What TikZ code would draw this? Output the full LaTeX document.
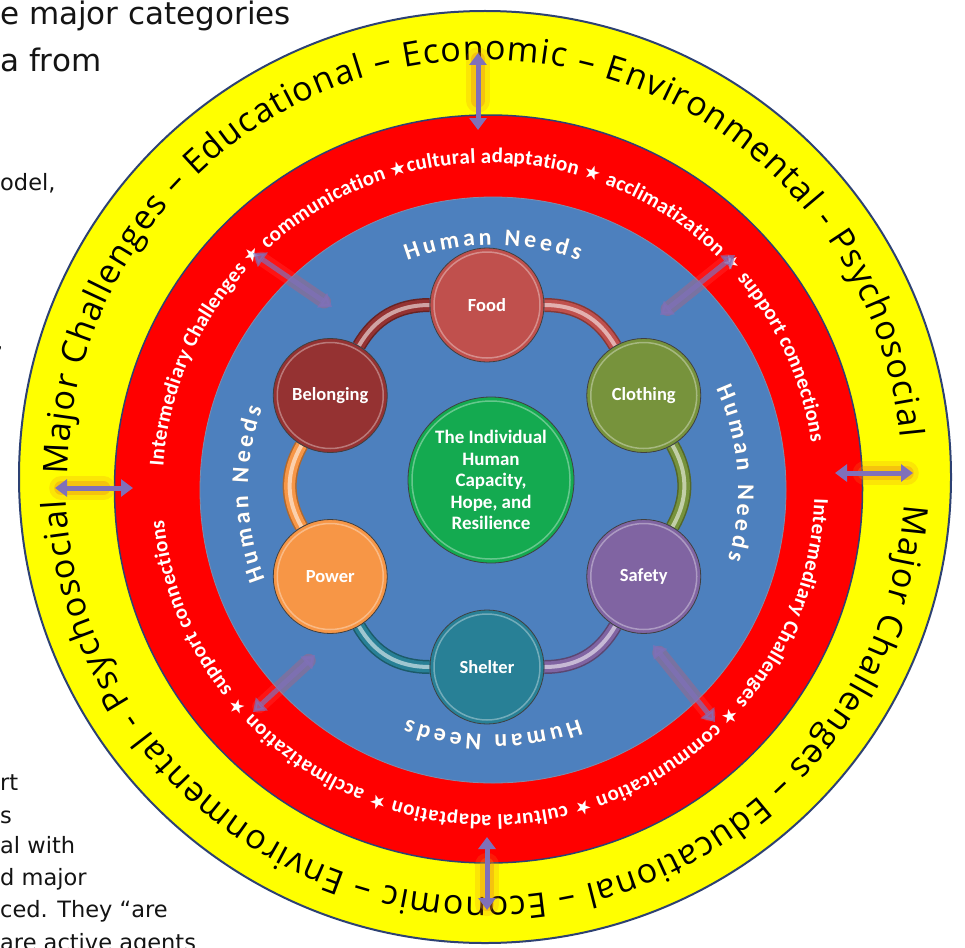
\documentclass[tikz,border=0pt]{standalone}
\usepackage{fontspec}
\setmainfont{Carlito}
\newfontfamily\yelfont{Open Sans}
\newfontfamily\calfont{Carlito}
\newfontfamily\symfont{DejaVu Sans}
\newfontfamily\slidefont{DejaVu Sans}
\usetikzlibrary{decorations.text,arrows.meta,calc}

\definecolor{ringyellow}{RGB}{255,255,0}
\definecolor{ringred}{RGB}{255,0,0}
\definecolor{ringblue}{RGB}{77,128,190}
\definecolor{rimline}{RGB}{45,65,115}
\definecolor{cfood}{RGB}{192,80,77}
\definecolor{ccloth}{RGB}{119,147,60}
\definecolor{csafe}{RGB}{128,100,162}
\definecolor{cshelter}{RGB}{40,128,150}
\definecolor{cpower}{RGB}{247,150,70}
\definecolor{cbelong}{RGB}{149,50,50}
\definecolor{ccenter}{RGB}{20,170,80}
\definecolor{arrowpurple}{RGB}{128,112,185}
\definecolor{glow}{RGB}{235,130,30}
\definecolor{slidetext}{RGB}{20,20,20}

\newcommand\ytxt{\yelfont\fontsize{34}{34}\selectfont\color{black}}
\newcommand\rtxt{\calfont\bfseries\fontsize{21}{21}\selectfont\color{white}}
\newcommand\rstar{\symfont\fontsize{19}{19}\selectfont\color{white}}
\newcommand\htxt{\calfont\bfseries\fontsize{24}{24}\selectfont\color{white}}
\newcommand\hshadow{\calfont\bfseries\fontsize{24}{24}\selectfont\color{black!60}}

\pgfdeclarelayer{back}
\pgfdeclarelayer{bands}
\pgfsetlayers{back,bands,main}

\tikzset{
  need/.style={circle, minimum size=114pt, inner sep=0pt, fill=#1, draw=black!75,
    line width=0.8pt, text=white, font=\calfont\bfseries\fontsize{18.5}{18.5}\selectfont},
  hub/.style={circle, minimum size=166pt, inner sep=0pt, fill=ccenter, draw=black!75,
    line width=0.8pt, text=white, align=center,
    font=\calfont\bfseries\fontsize{19}{21.5}\selectfont},
  bandout/.style={line width=14pt, draw=#1!70!black, bend left=30},
  bandmid/.style={line width=11pt, draw=#1, bend left=30},
  bandhi/.style={line width=4pt, draw=#1!45!white, bend left=30},
  dbl/.style={draw=arrowpurple, line width=5pt,
    {Triangle[width=17pt,length=12pt]}-{Triangle[width=17pt,length=12pt]}},
  glowwide/.style={draw=glow, line width=24pt, opacity=0.2, line cap=round},
  glownarrow/.style={draw=glow, line width=14pt, opacity=0.35, line cap=round},
  pinkglow/.style={draw=red!70!white, line width=14pt, opacity=0.25, line cap=round},
  fadedarrow/.style={dbl, opacity=0.7},
  slide/.style={anchor=base west, inner sep=0pt, text=slidetext},
  ringtext/.style={decorate, decoration={text along path, text align={fit to path}, text={#1}}},
}

\begin{document}
\begin{tikzpicture}[x=1pt,y=1pt]
\useasboundingbox (0,0) rectangle (965,-947);

\coordinate (Y) at (485,-477);
\coordinate (R) at (488.5,-489);
\coordinate (B) at (493,-490);
\coordinate (H) at (487,-486);

\begin{pgfonlayer}{back}
\fill[white] (0,0) rectangle (965,-947);
\fill[ringyellow] (Y) circle[radius=466];
\draw[rimline, line width=2pt] (Y) circle[radius=466];
\fill[ringred] (R) circle[radius=374];
\draw[rimline, line width=1.5pt] (R) circle[radius=374];
\fill[ringblue] (B) circle[radius=293];
\draw[rimline!60, line width=0.8pt] (B) circle[radius=293];

% yellow ring text
\path[ringtext={|\ytxt|Major Challenges – Educational – Economic – Environmental - Psychosocial}]
  ([shift={(179.6:417)}]Y) arc[start angle=179.6, end angle=5.4, radius=417];
\path[ringtext={|\ytxt|Major Challenges – Educational – Economic – Environmental - Psychosocial}]
  ([shift={(-3.8:420)}]Y) arc[start angle=-3.8, end angle=-176.8, radius=420];

% red ring text
\path[ringtext={|\rtxt|Intermediary Challenges |\rstar|★ |\rtxt|communication |\rstar|★|\rtxt|cultural adaptation |\rstar|★ |\rtxt|acclimatization |\rstar|★ |\rtxt|support connections}]
  ([shift={(176:326)}]R) arc[start angle=176, end angle=8.3, radius=326];
\path[ringtext={|\rtxt|Intermediary Challenges |\rstar|★ |\rtxt|communication |\rstar|★ |\rtxt|cultural adaptation |\rstar|★ |\rtxt|acclimatization |\rstar|★ |\rtxt|support connections}]
  ([shift={(-1.6:326)}]R) arc[start angle=-1.6, end angle=-174.5, radius=326];

% Human Needs
\foreach \a in {90,4,-90,181} {
  \path[shift={(1.2,-1.2)}, ringtext={|\hshadow|Human Needs}]
    ([shift={({\a+20.5}:245)}]B) arc[start angle={\a+20.5}, end angle={\a-20.5}, radius=245];
  \path[ringtext={|\htxt|Human Needs}]
    ([shift={({\a+20.5}:245)}]B) arc[start angle={\a+20.5}, end angle={\a-20.5}, radius=245];
}
\end{pgfonlayer}

% need circles
\node[need=cfood]    (food)    at ([shift={(90:181)}]H)   {Food};
\node[need=ccloth]   (cloth)   at ([shift={(30:181)}]H)   {Clothing};
\node[need=csafe]    (safety)  at ([shift={(-30:181)}]H)  {Safety};
\node[need=cshelter] (shelter) at ([shift={(-90:181)}]H)  {Shelter};
\node[need=cpower]   (power)   at ([shift={(-150:181)}]H) {Power};
\node[need=cbelong]  (belong)  at ([shift={(150:181)}]H)  {Belonging};
\node[hub] (center) at (491,-480) {The Individual\\Human\\Capacity,\\Hope, and\\Resilience};

\foreach \n in {food,cloth,safety,shelter,power,belong}
  \draw[white, opacity=0.35, line width=1.5pt] (\n.center) circle[radius=53];
\draw[white, opacity=0.35, line width=1.5pt] (center.center) circle[radius=79];

\begin{pgfonlayer}{bands}
\foreach \s/\t/\c in {food/cloth/cfood, cloth/safety/ccloth, safety/shelter/csafe,
    shelter/power/cshelter, power/belong/cpower, belong/food/cbelong} {
  \draw[bandout=\c] (\s) to (\t);
  \draw[bandmid=\c] (\s) to (\t);
  \draw[bandhi=\c] (\s) to (\t);
}
\end{pgfonlayer}

% arrows between the outer rings
\coordinate (ta) at (478,-53);   \coordinate (tb) at (478,-130);
\coordinate (ba) at (487,-837);  \coordinate (bb) at (487,-910);
\coordinate (la) at (55,-488);   \coordinate (lb) at (133,-488);
\coordinate (ra) at (835,-473);  \coordinate (rb) at (913,-473);
\foreach \p/\q in {ta/tb, bb/ba, la/lb, rb/ra} {
  \draw[glowwide] ($(\p)!0.08!(\q)$) -- ($(\p)!0.62!(\q)$);
  \draw[glownarrow] ($(\p)!0.08!(\q)$) -- ($(\p)!0.62!(\q)$);
  \draw[dbl] (\p) -- (\q);
}

% faded diagonal arrows
\coordinate (ula) at (253,-253); \coordinate (ulb) at (332,-307);
\coordinate (ura) at (735,-255); \coordinate (urb) at (660,-315);
\coordinate (lla) at (253,-712); \coordinate (llb) at (315,-655);
\coordinate (lra) at (715,-722); \coordinate (lrb) at (653,-645);
\foreach \p/\q in {ula/ulb, ura/urb, lla/llb, lra/lrb} {
  \draw[pinkglow] ($(\p)!0.1!(\q)$) -- ($(\p)!0.9!(\q)$);
  \draw[fadedarrow] (\p) -- (\q);
}

% cropped slide text at the left
\node[slide, font=\slidefont\fontsize{31}{31}\selectfont] (s1) at (0,-25) {e major categories};
\node[slide, font=\slidefont\fontsize{31}{31}\selectfont] (s2) at (0,-72) {a from};
\node[slide, font=\slidefont\fontsize{22.5}{22.5}\selectfont] (s3) at (0,-190) {odel,};
\node[slide, font=\slidefont\fontsize{22.5}{22.5}\selectfont] (s4) at (-4,-349) {,};
\node[slide, font=\slidefont\fontsize{22.5}{22.5}\selectfont] (s5) at (0,-790) {rt};
\node[slide, font=\slidefont\fontsize{22.5}{22.5}\selectfont] (s6) at (0,-823) {s};
\node[slide, font=\slidefont\fontsize{22.5}{22.5}\selectfont] (s7) at (0,-853) {al with};
\node[slide, font=\slidefont\fontsize{22.5}{22.5}\selectfont] (s8) at (0,-885) {d major};
\node[slide, font=\slidefont\fontsize{22.5}{22.5}\selectfont] (s9) at (0,-917) {ced. They “are};
\node[slide, font=\slidefont\fontsize{22.5}{22.5}\selectfont] (s10) at (0,-950) {are active agents};
\end{tikzpicture}
\end{document}
